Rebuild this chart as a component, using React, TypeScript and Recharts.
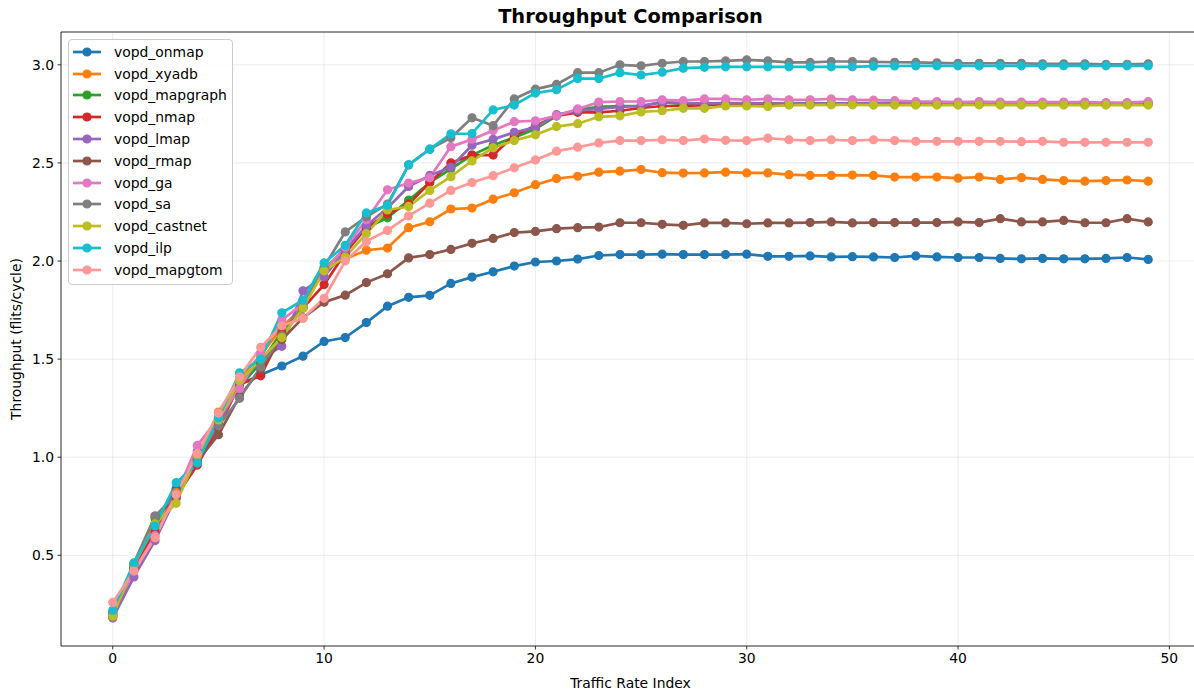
import React from 'react';
import { LineChart, Line, XAxis, YAxis, CartesianGrid, Legend, ReferenceLine } from 'recharts';

// Traffic rate index (x axis categories)
const rateIndex = [
  0, 1, 2, 3, 4, 5, 6, 7, 8, 9, 10, 11, 12, 13, 14, 15, 16, 17, 18, 19, 20, 21, 22, 23, 24,
  25, 26, 27, 28, 29, 30, 31, 32, 33, 34, 35, 36, 37, 38, 39, 40, 41, 42, 43, 44, 45, 46, 47, 48, 49,
];

// Throughput (flits/cycle) per mapping algorithm
const vopdOnmap = [
  0.21, 0.44, 0.66, 0.84, 0.98, 1.18, 1.37, 1.42, 1.465, 1.515, 1.59, 1.61, 1.686, 1.77, 1.815, 1.825, 1.886,
  1.918, 1.945, 1.974, 1.995, 2.0, 2.01, 2.028, 2.033, 2.033, 2.035, 2.033, 2.033, 2.033, 2.035, 2.024, 2.024,
  2.026, 2.021, 2.022, 2.021, 2.018, 2.026, 2.021, 2.018, 2.018, 2.013, 2.011, 2.013, 2.011, 2.011, 2.013, 2.018, 2.008,
];
const vopdXyadb = [
  0.2, 0.43, 0.63, 0.82, 1.0, 1.23, 1.4, 1.52, 1.66, 1.77, 1.96, 2.01, 2.055, 2.066, 2.17, 2.2, 2.265, 2.27,
  2.315, 2.348, 2.389, 2.42, 2.432, 2.453, 2.458, 2.466, 2.45, 2.448, 2.449, 2.453, 2.449, 2.449, 2.44, 2.436,
  2.436, 2.438, 2.436, 2.428, 2.428, 2.428, 2.422, 2.428, 2.416, 2.425, 2.416, 2.41, 2.407, 2.41, 2.413, 2.407,
];
const vopdMapgraph = [
  0.19, 0.45, 0.69, 0.8, 0.99, 1.2, 1.36, 1.48, 1.64, 1.76, 1.96, 2.06, 2.17, 2.22, 2.31, 2.4, 2.47, 2.54, 2.59,
  2.63, 2.673, 2.74, 2.77, 2.786, 2.79, 2.79, 2.81, 2.8, 2.8, 2.801, 2.8, 2.801, 2.799, 2.8, 2.8, 2.801, 2.8,
  2.8, 2.799, 2.8, 2.8, 2.8, 2.801, 2.8, 2.8, 2.799, 2.8, 2.8, 2.8, 2.8,
];
const vopdNmap = [
  0.2, 0.43, 0.62, 0.8, 0.96, 1.15, 1.37, 1.415, 1.63, 1.76, 1.88, 2.04, 2.17, 2.24, 2.29, 2.4, 2.5, 2.54, 2.54,
  2.64, 2.69, 2.74, 2.758, 2.758, 2.766, 2.78, 2.79, 2.79, 2.795, 2.8, 2.8, 2.8, 2.799, 2.8, 2.8, 2.8, 2.8, 2.799,
  2.8, 2.8, 2.8, 2.8, 2.8, 2.799, 2.8, 2.8, 2.8, 2.8, 2.8, 2.8,
];
const vopdLmap = [
  0.18, 0.39, 0.575, 0.8, 1.03, 1.16, 1.38, 1.5, 1.565, 1.848, 1.92, 2.055, 2.18, 2.27, 2.38, 2.436, 2.478, 2.59,
  2.62, 2.656, 2.68, 2.746, 2.766, 2.775, 2.786, 2.79, 2.81, 2.805, 2.803, 2.805, 2.805, 2.804, 2.805, 2.805,
  2.804, 2.805, 2.805, 2.804, 2.804, 2.805, 2.804, 2.804, 2.805, 2.804, 2.804, 2.804, 2.805, 2.804, 2.804, 2.805,
];
const vopdRmap = [
  0.19, 0.44, 0.7, 0.79, 0.98, 1.115, 1.31, 1.45, 1.6, 1.71, 1.79, 1.826, 1.89, 1.935, 2.016, 2.033, 2.059, 2.09,
  2.115, 2.145, 2.151, 2.165, 2.17, 2.173, 2.195, 2.195, 2.187, 2.182, 2.194, 2.194, 2.19, 2.194, 2.194, 2.196,
  2.199, 2.194, 2.196, 2.196, 2.196, 2.196, 2.199, 2.196, 2.216, 2.199, 2.199, 2.207, 2.195, 2.195, 2.216, 2.199,
];
const vopdGa = [
  0.21, 0.42, 0.6, 0.81, 1.06, 1.2, 1.35, 1.53, 1.7, 1.78, 1.95, 2.07, 2.21, 2.363, 2.397, 2.425, 2.583, 2.62, 2.665,
  2.71, 2.715, 2.74, 2.775, 2.81, 2.813, 2.813, 2.822, 2.817, 2.826, 2.826, 2.822, 2.826, 2.822, 2.822, 2.826,
  2.822, 2.82, 2.817, 2.813, 2.813, 2.81, 2.813, 2.81, 2.81, 2.81, 2.81, 2.81, 2.808, 2.808, 2.812,
];
const vopdSa = [
  0.2, 0.46, 0.7, 0.81, 1.0, 1.16, 1.3, 1.46, 1.62, 1.77, 1.97, 2.148, 2.225, 2.29, 2.49, 2.57, 2.628, 2.73, 2.69,
  2.826, 2.876, 2.9, 2.96, 2.96, 3.0, 2.995, 3.008, 3.017, 3.017, 3.02, 3.025, 3.02, 3.012, 3.012, 3.017, 3.017,
  3.015, 3.013, 3.012, 3.01, 3.008, 3.008, 3.008, 3.008, 3.005, 3.005, 3.005, 3.003, 3.003, 3.005,
];
const vopdCastnet = [
  0.19, 0.45, 0.66, 0.765, 1.01, 1.19, 1.39, 1.5, 1.61, 1.76, 1.95, 2.02, 2.14, 2.26, 2.278, 2.36, 2.43, 2.51,
  2.577, 2.614, 2.643, 2.685, 2.7, 2.735, 2.74, 2.76, 2.766, 2.778, 2.778, 2.79, 2.79, 2.788, 2.795, 2.795, 2.796,
  2.796, 2.795, 2.795, 2.795, 2.795, 2.795, 2.796, 2.795, 2.795, 2.795, 2.795, 2.795, 2.795, 2.795, 2.795,
];
const vopdIlp = [
  0.22, 0.46, 0.65, 0.87, 0.97, 1.2, 1.43, 1.5, 1.736, 1.8, 1.99, 2.08, 2.245, 2.284, 2.49, 2.57, 2.648, 2.65, 2.77,
  2.795, 2.856, 2.873, 2.93, 2.93, 2.96, 2.948, 2.962, 2.983, 2.987, 2.99, 2.99, 2.99, 2.99, 2.99, 2.99, 2.99,
  2.993, 2.994, 2.995, 2.995, 2.995, 2.995, 2.995, 2.995, 2.995, 2.995, 2.995, 2.995, 2.995, 2.995,
];
const vopdMapgtom = [
  0.26, 0.42, 0.59, 0.81, 1.02, 1.225, 1.41, 1.56, 1.67, 1.708, 1.81, 2.0, 2.1, 2.156, 2.23, 2.295, 2.36, 2.4,
  2.435, 2.475, 2.515, 2.56, 2.58, 2.602, 2.614, 2.614, 2.618, 2.614, 2.622, 2.615, 2.614, 2.626, 2.618, 2.614,
  2.618, 2.614, 2.618, 2.614, 2.61, 2.61, 2.61, 2.61, 2.61, 2.608, 2.61, 2.605, 2.605, 2.605, 2.605, 2.605,
];

const seriesNames = [
  'vopd_onmap', 'vopd_xyadb', 'vopd_mapgraph', 'vopd_nmap', 'vopd_lmap', 'vopd_rmap',
  'vopd_ga', 'vopd_sa', 'vopd_castnet', 'vopd_ilp', 'vopd_mapgtom',
];
const seriesValues = [
  vopdOnmap, vopdXyadb, vopdMapgraph, vopdNmap, vopdLmap, vopdRmap,
  vopdGa, vopdSa, vopdCastnet, vopdIlp, vopdMapgtom,
];
const seriesColors = [
  '#1f77b4', '#ff7f0e', '#2ca02c', '#d62728', '#9467bd', '#8c564b',
  '#e377c2', '#7f7f7f', '#bcbd22', '#17becf', '#ff9896',
];

const xTicks = [0, 10, 20, 30, 40, 50];
const yTicks = [0.5, 1.0, 1.5, 2.0, 2.5, 3.0];

// rows for the chart: one object per rate index
const chartData = rateIndex.map((x, i) => {
  const row: Record<string, number> = { x };
  seriesNames.forEach((name, s) => {
    row[name] = seriesValues[s][i];
  });
  return row;
});

// axis limits padded by 5% of the data span on each side
const allValues = seriesValues.flat();
const yMinData = Math.min(...allValues);
const yMaxData = Math.max(...allValues);
const yPad = (yMaxData - yMinData) * 0.05;
const yLo = yMinData - yPad;
const yHi = yMaxData + yPad;
const xPad = (rateIndex[rateIndex.length - 1] - rateIndex[0]) * 0.05;
const xLo = rateIndex[0] - xPad;
const xHi = rateIndex[rateIndex.length - 1] + xPad;

const FONT = '"DejaVu Sans", "Liberation Sans", sans-serif';

const renderLegend = (props: any) => {
  // keep entries in plotting order
  const payload = [...(props.payload || [])].sort(
    (a: any, b: any) => seriesNames.indexOf(a.value) - seriesNames.indexOf(b.value),
  );
  return (
    <div
      style={{
        border: '1px solid #cccccc',
        borderRadius: 4,
        background: 'rgba(255,255,255,0.8)',
        padding: '1px 10px 3px 3px',
        fontFamily: FONT,
        fontSize: 13.9,
        color: '#000',
        boxSizing: 'border-box',
        width: 165,
      }}
    >
      {payload.map((entry: any) => (
        <div key={entry.value} style={{ display: 'flex', alignItems: 'center', height: 21.8 }}>
          <svg width={30} height={12} style={{ marginRight: 12, flex: 'none' }}>
            <line x1={1} y1={6} x2={29} y2={6} stroke={entry.color} strokeWidth={2.7} />
            <circle cx={15} cy={6} r={4} fill={entry.color} stroke={entry.color} strokeWidth={1.2} />
          </svg>
          <span style={{ whiteSpace: 'nowrap' }}>{entry.value}</span>
        </div>
      ))}
    </div>
  );
};

export default function App() {
  return (
    <div
      style={{
        position: 'absolute',
        left: 0,
        top: 0,
        width: 1194,
        height: 693,
        overflow: 'hidden',
        background: '#fff',
        fontFamily: FONT,
      }}
    >
      <LineChart
        width={1200}
        height={693}
        data={chartData}
        margin={{ top: 32, right: 0, bottom: 0, left: 0 }}
      >
        <CartesianGrid stroke="#b0b0b0" strokeOpacity={0.3} strokeWidth={0.8} />
        <XAxis
          dataKey="x"
          type="number"
          domain={[xLo, xHi]}
          ticks={xTicks}
          allowDataOverflow
          height={47}
          tickSize={3.5}
          tickMargin={3.5}
          axisLine={{ stroke: '#000', strokeWidth: 0.8 }}
          tickLine={{ stroke: '#000', strokeWidth: 0.8 }}
          tick={{ fill: '#000', fontSize: 13.9, fontFamily: FONT }}
        />
        <YAxis
          type="number"
          domain={[yLo, yHi]}
          ticks={yTicks}
          allowDataOverflow
          width={61}
          tickSize={3.5}
          tickMargin={3.5}
          tickFormatter={(v: number) => v.toFixed(1)}
          axisLine={{ stroke: '#000', strokeWidth: 0.8 }}
          tickLine={{ stroke: '#000', strokeWidth: 0.8 }}
          tick={{ fill: '#000', fontSize: 13.9, fontFamily: FONT }}
        />
        <ReferenceLine y={yHi} stroke="#000" strokeWidth={0.8} />
        <Legend
          layout="vertical"
          align="center"
          verticalAlign="middle"
          itemSorter={null as any}
          content={renderLegend}
          wrapperStyle={{ left: 68, top: 39, width: 'auto', height: 'auto' }}
        />
        {seriesNames.map((name, s) => (
          <Line
            key={name}
            type="linear"
            dataKey={name}
            name={name}
            stroke={seriesColors[s]}
            strokeWidth={2.7}
            dot={{ r: 4, fill: seriesColors[s], stroke: seriesColors[s], strokeWidth: 1.2 }}
            activeDot={false}
            isAnimationActive={false}
          />
        ))}
      </LineChart>
      <div
        style={{
          position: 'absolute',
          left: 0,
          top: 5,
          width: 1261,
          textAlign: 'center',
          fontWeight: 'bold',
          fontSize: 19.4,
          lineHeight: '24px',
          color: '#000',
        }}
      >
        Throughput Comparison
      </div>
      <div
        style={{
          position: 'absolute',
          left: 0,
          top: 675,
          width: 1261,
          textAlign: 'center',
          fontSize: 13.9,
          lineHeight: '16px',
          color: '#000',
        }}
      >
        Traffic Rate Index
      </div>
      <div
        style={{
          position: 'absolute',
          left: 16,
          top: 339,
          transform: 'translate(-50%, -50%) rotate(-90deg)',
          whiteSpace: 'nowrap',
          fontSize: 13.9,
          lineHeight: '16px',
          color: '#000',
        }}
      >
        Throughput (flits/cycle)
      </div>
    </div>
  );
}
